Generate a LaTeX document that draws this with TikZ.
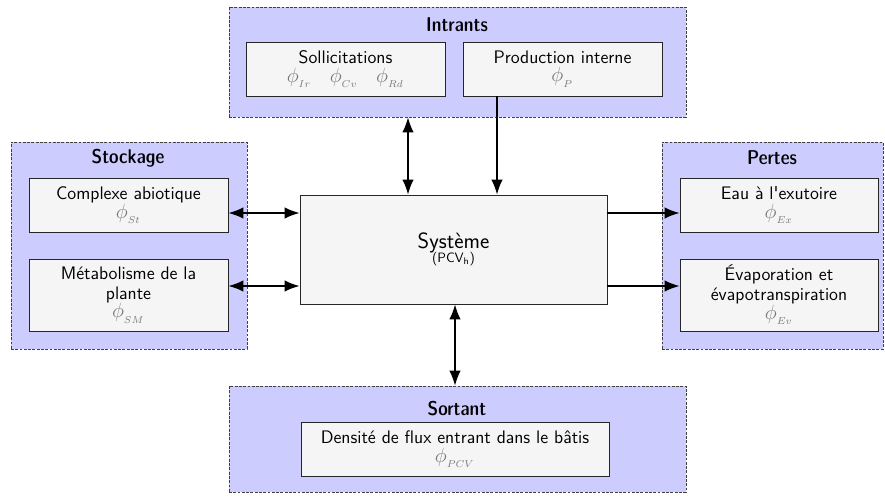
\documentclass[tikz,border=0pt]{standalone}
\usepackage{fontspec}
\renewcommand\familydefault{\sfdefault}
\usetikzlibrary{arrows.meta}
\definecolor{grpfill}{RGB}{204,204,255}
\definecolor{boxfill}{RGB}{245,245,245}
\definecolor{phigray}{RGB}{120,120,120}
\newcommand{\fphi}[1]{\textcolor{phigray}{\fontsize{14}{16}\selectfont$\phi_{_{#1}}$}}
\tikzset{
  grp/.style={draw=black!75, dashed, dash pattern=on 2pt off 1pt, line width=0.5pt, fill=grpfill, rectangle, inner sep=0pt},
  bx/.style={draw=black!85, line width=0.6pt, fill=boxfill, rectangle, inner sep=0pt, align=center, font=\fontsize{12.7}{14}\selectfont},
  ttl/.style={font=\fontsize{14}{17}\fontseries{sbc}\selectfont},
  conn/.style={line width=1pt, -{Latex[length=10.5pt,width=8pt]}},
  dconn/.style={line width=1pt, {Latex[length=10.5pt,width=8pt]}-{Latex[length=10.5pt,width=8pt]}},
}
\begin{document}
\begin{tikzpicture}[x=0.7pt,y=-0.7pt]
\useasboundingbox (0,0) rectangle (885,496);
% groups
\node[grp, minimum width=457*0.7pt, minimum height=110*0.7pt] (intr) at (457.5,62) {};
\node[grp, minimum width=236*0.7pt, minimum height=207*0.7pt] (stock) at (129,245.5) {};
\node[grp, minimum width=221*0.7pt, minimum height=207*0.7pt] (pertes) at (772.5,245.5) {};
\node[grp, minimum width=457*0.7pt, minimum height=106*0.7pt] (sort) at (457.5,439) {};
% titles
\node[ttl] (tintr) at (457,25) {Intrants};
\node[ttl] (tstock) at (128,158) {Stockage};
\node[ttl] (tpertes) at (772,158) {Pertes};
\node[ttl] (tsort) at (457,409) {Sortant};
% boxes
\node[bx, minimum width=199*0.7pt, minimum height=54*0.7pt] (sol) at (345.5,69) {Sollicitations\\[-1pt] \fphi{Ir}\quad\fphi{Cv}\quad\fphi{Rd}};
\node[bx, minimum width=199*0.7pt, minimum height=54*0.7pt] (prod) at (562.5,69) {Production interne\\[-1pt] \fphi{P}};
\node[bx, minimum width=199*0.7pt, minimum height=54*0.7pt] (comp) at (128.5,205) {Complexe abiotique\\[-1pt] \fphi{St}};
\node[bx, minimum width=199*0.7pt, minimum height=72*0.7pt] (meta) at (128.5,295) {Métabolisme de la\\ plante\\[-1pt] \fphi{SM}};
\node[bx, minimum width=198*0.7pt, minimum height=54*0.7pt] (eau) at (779,205) {Eau à l\textquotesingle exutoire\\[-1pt] \fphi{Ex}};
\node[bx, minimum width=198*0.7pt, minimum height=72*0.7pt] (evap) at (779,295) {Évaporation et\\ évapotranspiration\\[-1pt] \fphi{Ev}};
\node[bx, minimum width=307*0.7pt, minimum height=109*0.7pt] (sys) at (453.5,249.5) {{\fontsize{15.5}{18}\selectfont Système}\\[-4pt] {\fontsize{9.5}{11}\selectfont (PCV$_{\mathsf{h}}$)}};
\node[bx, minimum width=308*0.7pt, minimum height=54*0.7pt] (dens) at (455,449) {Densité de flux entrant dans le bâtis\\[-1pt] \fphi{PCV}};
% connector positions
\coordinate (xa) at (408,0);
\coordinate (xb) at (497,0);
\coordinate (xc) at (455,0);
\coordinate (ya) at (0,213);
\coordinate (yb) at (0,286);
% connectors
\draw[dconn] (xa |- intr.south) -- (xa |- sys.north);
\draw[conn] (xb |- prod.south) -- (xb |- sys.north);
\draw[dconn] (comp.east |- ya) -- (sys.west |- ya);
\draw[dconn] (meta.east |- yb) -- (sys.west |- yb);
\draw[conn] (sys.east |- ya) -- (eau.west |- ya);
\draw[conn] (sys.east |- yb) -- (evap.west |- yb);
\draw[dconn] (xc |- sys.south) -- (xc |- sort.north);
\end{tikzpicture}
\end{document}
